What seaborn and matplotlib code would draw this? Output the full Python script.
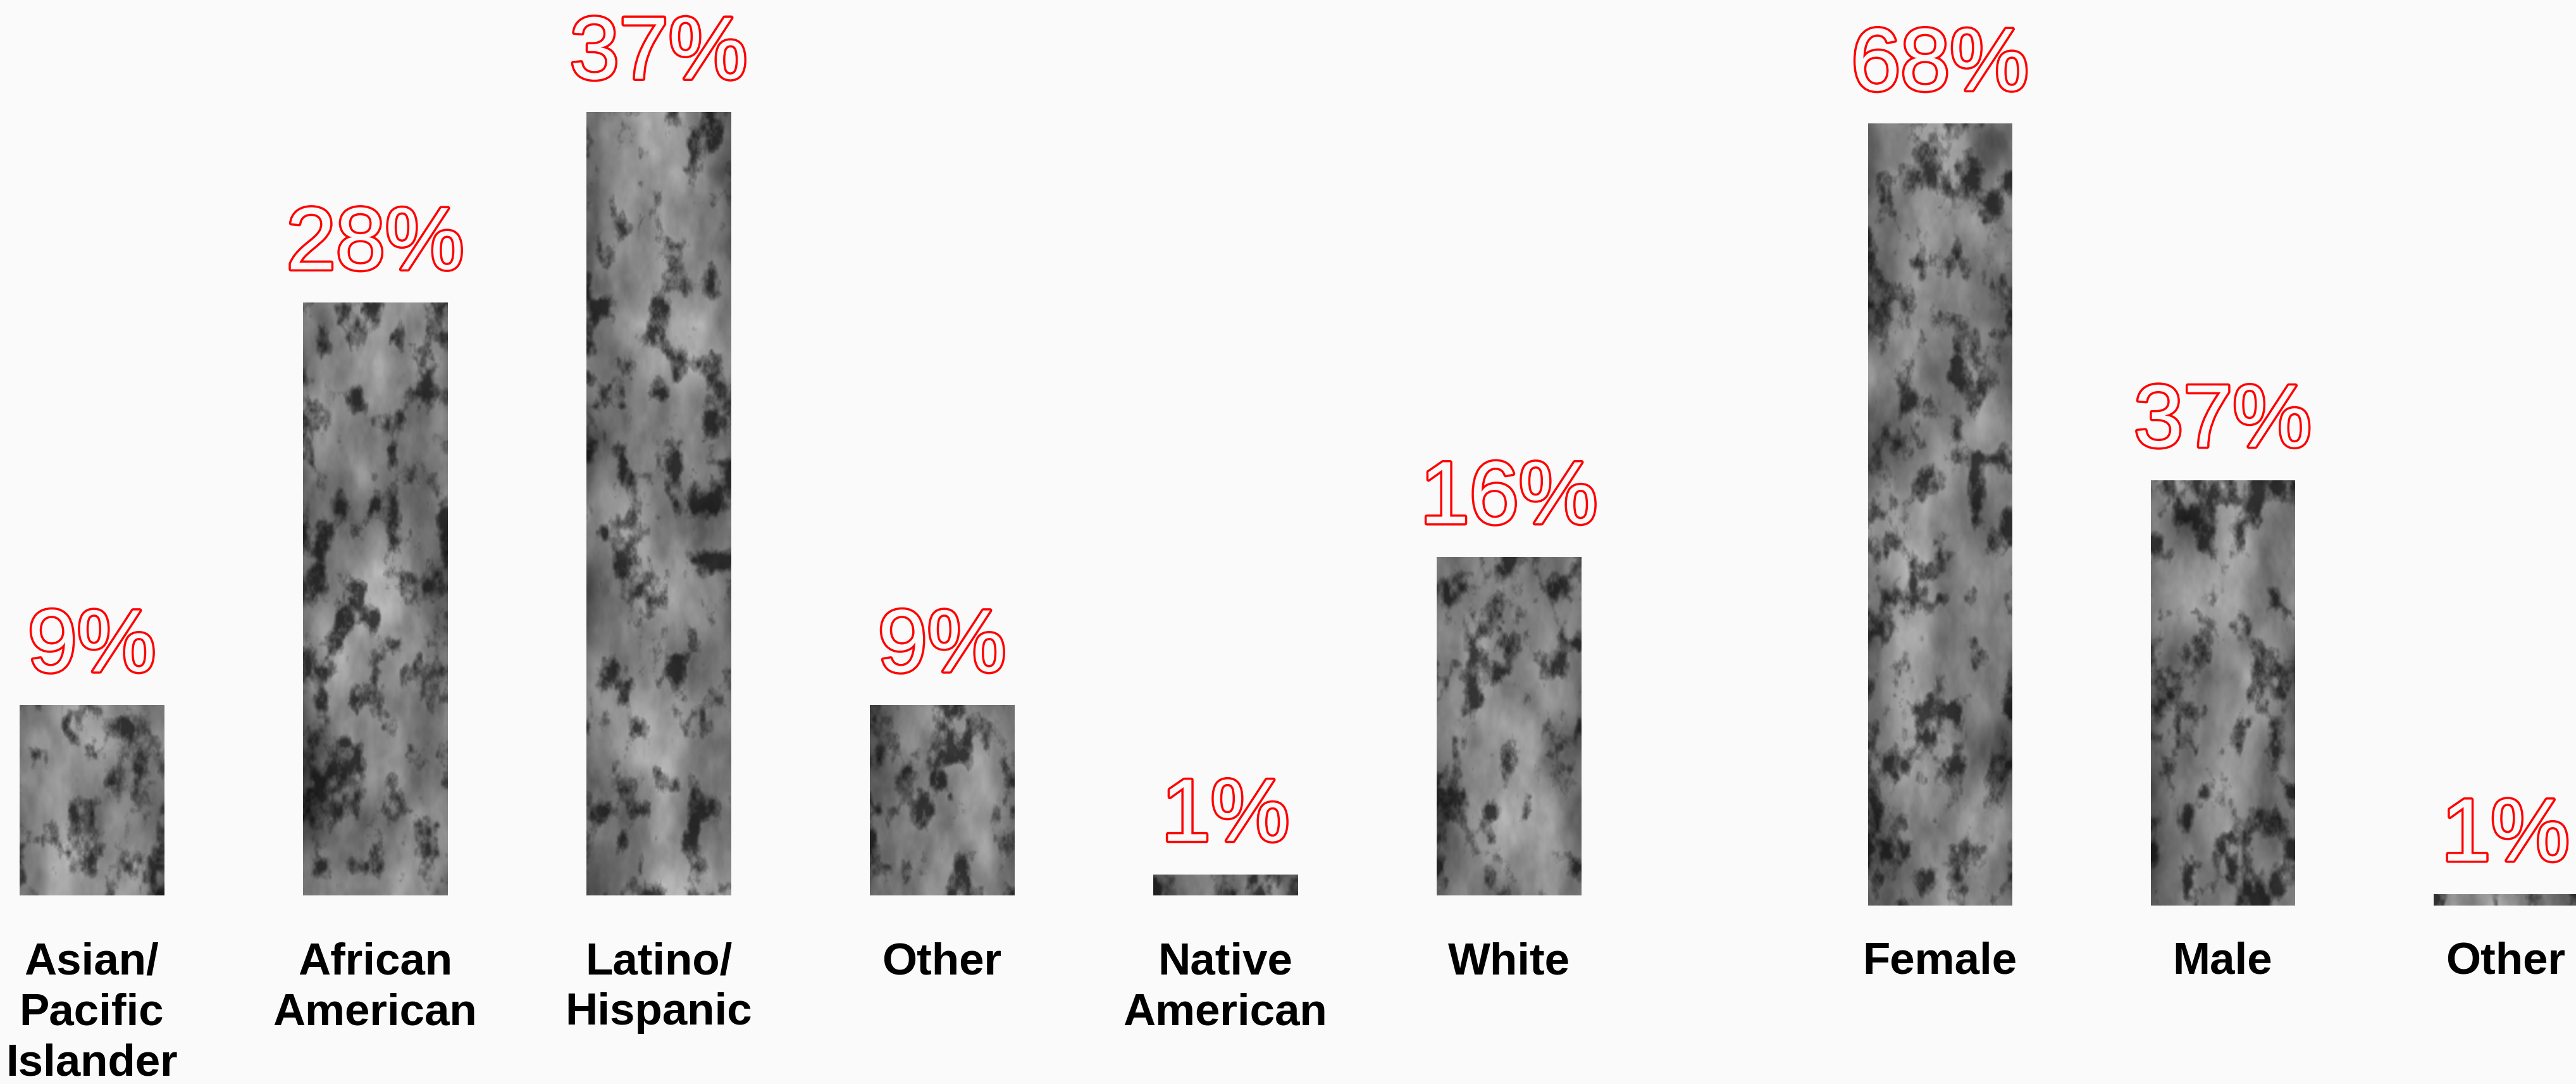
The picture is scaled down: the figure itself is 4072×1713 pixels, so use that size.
import numpy as np
import pandas as pd
import seaborn as sns
import matplotlib
matplotlib.use("Agg")
import matplotlib.pyplot as plt
from matplotlib import patheffects as pe

# ---- data ----
race_categories = ["Asian/\nPacific\nIslander", "African\nAmerican", "Latino/\nHispanic",
                   "Other", "Native\nAmerican", "White"]
race_values = [9, 28, 37, 9, 1, 16]
gender_categories = ["Female", "Male", "Other"]
gender_values = [68, 37, 1]

BG = "#fafafa"
W, H = 4072, 1713

sns.set_theme(style="white")
plt.rcParams["font.family"] = ["Liberation Sans", "DejaVu Sans"]

fig = plt.figure(figsize=(W / 100, H / 100), dpi=100, facecolor=BG)

ax_race = fig.add_axes([0 / W, 298 / H, 2688 / W, 1405 / H])
ax_gender = fig.add_axes([2843 / W, 282 / H, 1341 / W, 1363 / H])


# ---- deterministic grunge texture (decoration only) ----
def _hash(a, b, s):
    v = np.sin(a * 12.9898 + b * 78.233 + s * 37.719) * 43758.5453
    return v - np.floor(v)


def vnoise(nx, ny, cx, cy, s):
    X, Y = np.meshgrid(np.arange(nx) / cx, np.arange(ny) / cy)
    ix, iy = np.floor(X), np.floor(Y)
    fx, fy = X - ix, Y - iy
    u = fx * fx * (3 - 2 * fx)
    v = fy * fy * (3 - 2 * fy)
    n00 = _hash(ix, iy, s)
    n10 = _hash(ix + 1, iy, s)
    n01 = _hash(ix, iy + 1, s)
    n11 = _hash(ix + 1, iy + 1, s)
    return (n00 * (1 - u) + n10 * u) * (1 - v) + (n01 * (1 - u) + n11 * u) * v


def fbm(nx, ny, cx, cy, s, octaves=5):
    tot, amp, norm = 0, 1.0, 0
    for o in range(octaves):
        tot = tot + amp * vnoise(nx, ny, cx / 2 ** o, cy / 2 ** o, s + o * 3.1)
        norm += amp
        amp *= 0.55
    return tot / norm


def texture(nx, ny, s):
    base = fbm(nx, ny, 30, 60, s)
    blot = fbm(nx, ny, 14, 22, s + 11.3)
    xs = np.linspace(-1, 1, nx)[None, :]
    shade = 0.56 - 0.14 * xs ** 2
    t = shade + 0.55 * (base - 0.5)
    dark = np.clip((blot - 0.52) * 5, 0, 1)
    t = t * (1 - 0.65 * dark)
    return np.clip(t, 0, 1)


def draw(ax, cats, vals, ylim, xlim, pad, px_per_unit):
    df = pd.DataFrame({"cat": cats, "val": vals})
    sns.barplot(data=df, x="cat", y="val", ax=ax, color="#777777",
                saturation=1, width=0.51, linewidth=0)
    for i, p in enumerate(ax.patches):
        x0, w, h = p.get_x(), p.get_width(), p.get_height()
        ny = max(4, int(h * px_per_unit / 2))
        tex = texture(114, ny, 2.3 * i + 0.7 + len(cats))
        im = ax.imshow(tex, extent=[x0, x0 + w, 0, h], origin="lower",
                       aspect="auto", cmap="gray", vmin=0, vmax=1,
                       interpolation="bilinear", zorder=p.get_zorder() + 0.1)
        im.set_clip_path(p)
        ax.annotate(f"{vals[i]}%", xy=(x0 + w / 2, h), xytext=(0, 38),
                    textcoords="offset points", ha="center", va="baseline",
                    fontsize=101, color=BG, fontweight="normal",
                    path_effects=[pe.withStroke(linewidth=5, foreground="#ff0000")])
    ax.set_xlim(*xlim)
    ax.set_ylim(*ylim)
    ax.set_xlabel("")
    ax.set_ylabel("")
    ax.set_yticks([])
    ax.set_facecolor("none")
    for sp in ax.spines.values():
        sp.set_visible(False)
    ax.tick_params(axis="x", length=0, pad=pad, labelsize=51)
    for t in ax.get_xticklabels():
        t.set_fontweight("bold")
        t.set_color("black")
        t.set_linespacing(1.27)


draw(ax_race, race_categories, race_values, (0, 42), (-0.3237, 5.6763), 53, 1405 / 42)
draw(ax_gender, gender_categories, gender_values, (0, 75), (-0.5, 2.5), 41, 1363 / 75)

fig.savefig("out.png", dpi=100, facecolor=BG)
